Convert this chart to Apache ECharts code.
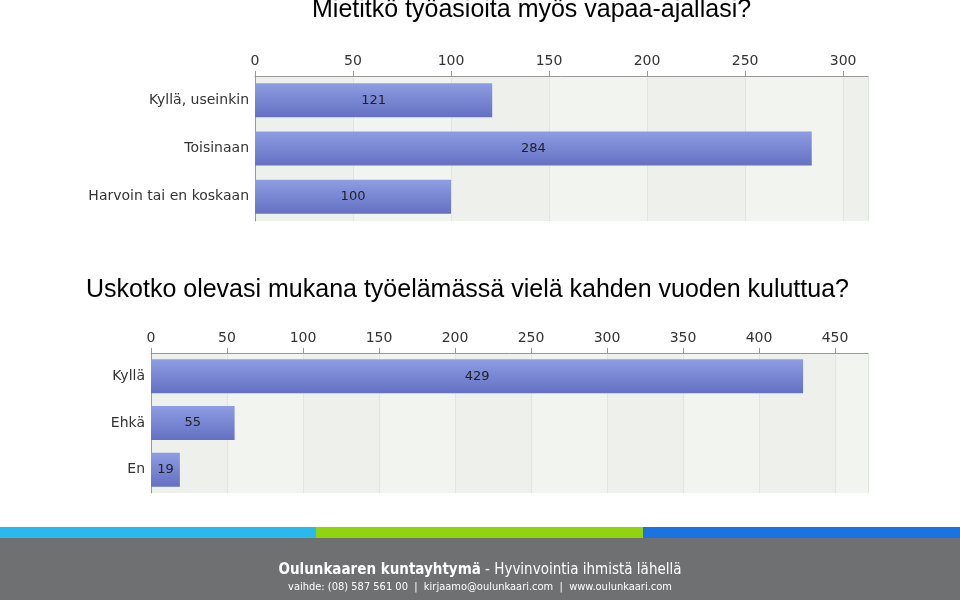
<!DOCTYPE html>
<html>
<head>
<meta charset="utf-8">
<script src="https://cdn.jsdelivr.net/npm/echarts@6/dist/echarts.min.js"></script>
<style>html,body{margin:0;padding:0;background:#fff}#main{width:960px;height:600px}</style>
</head>
<body>
<div id="main"></div>
<script>
// kysymys 1
var cats1 = ['Kyllä, useinkin', 'Toisinaan', 'Harvoin tai en koskaan'];
var vals1 = [121, 284, 100];
// kysymys 2
var cats2 = ['Kyllä', 'Ehkä', 'En'];
var vals2 = [429, 55, 19];

var barColor = new echarts.graphic.LinearGradient(0, 0, 0, 1, [
  {offset: 0, color: '#8e9de3'},
  {offset: 1, color: '#6470c2'}
]);

function xAxisFor(idx, max, interval) {
  return {
    gridIndex: idx, type: 'value', position: 'top', min: 0, max: max, interval: interval,
    axisLine: {show: true, lineStyle: {color: '#999'}},
    axisTick: {show: true, lineStyle: {color: '#999'}},
    axisLabel: {color: '#333', fontSize: 14, fontFamily: 'DejaVu Sans', showMaxLabel: false, margin: 8},
    splitLine: {show: true, lineStyle: {color: '#e2e4e0'}},
    splitArea: {show: true, areaStyle: {color: ['#eef0ec', '#f2f4f0']}}
  };
}
function yAxisFor(idx, cats) {
  return {
    gridIndex: idx, type: 'category', data: cats, inverse: true,
    axisLine: {show: true, lineStyle: {color: '#999'}},
    axisTick: {show: false},
    axisLabel: {color: '#333', fontSize: 14, fontFamily: 'DejaVu Sans', margin: 6}
  };
}
function barSeries(idx, vals) {
  return {
    type: 'bar', xAxisIndex: idx, yAxisIndex: idx, data: vals, barWidth: 34,
    itemStyle: {color: barColor},
    label: {show: true, position: 'inside', color: '#222', fontSize: 13, fontFamily: 'DejaVu Sans'}
  };
}

var chart = echarts.init(document.getElementById('main'));
chart.setOption({
  animation: false,
  grid: [
    {left: 255, top: 76, width: 613, height: 145},
    {left: 151, top: 353, width: 717, height: 140}
  ],
  xAxis: [xAxisFor(0, 312.7, 50), xAxisFor(1, 471.7, 50)],
  yAxis: [yAxisFor(0, cats1), yAxisFor(1, cats2)],
  series: [barSeries(0, vals1), barSeries(1, vals2)],
  graphic: [
    {type: 'text', left: 312, top: -2, style: {text: 'Mietitkö työasioita myös vapaa-ajallasi?', fontSize: 25, fontFamily: 'Liberation Sans', fill: '#000'}},
    {type: 'text', left: 86, top: 278, style: {text: 'Uskotko olevasi mukana työelämässä vielä kahden vuoden kuluttua?', fontSize: 25, fontFamily: 'Liberation Sans', fill: '#000'}},
    {type: 'rect', shape: {x: 0, y: 527, width: 316, height: 11}, style: {fill: '#29b9ec'}},
    {type: 'rect', shape: {x: 316, y: 527, width: 327, height: 11}, style: {fill: '#8fd40f'}},
    {type: 'rect', shape: {x: 643, y: 527, width: 317, height: 11}, style: {fill: '#1a73e0'}},
    {type: 'rect', shape: {x: 0, y: 538, width: 960, height: 62}, style: {fill: '#6e7071'}},
    {type: 'text', x: 480, y: 578, style: {text: '{b|Oulunkaaren kuntayhtymä} - Hyvinvointia ihmistä lähellä', align: 'center', verticalAlign: 'bottom', fill: '#fff', fontSize: 15, fontFamily: 'DejaVu Sans Condensed', rich: {b: {fontWeight: 'bold', fontSize: 15, fill: '#fff', fontFamily: 'DejaVu Sans Condensed'}}}},
    {type: 'text', x: 480, y: 587, style: {text: 'vaihde: (08) 587 561 00  |  kirjaamo@oulunkaari.com  |  www.oulunkaari.com', align: 'center', verticalAlign: 'middle', fill: '#fff', fontSize: 11, fontFamily: 'DejaVu Sans Condensed'}}
  ]
});
</script>
</body>
</html>
